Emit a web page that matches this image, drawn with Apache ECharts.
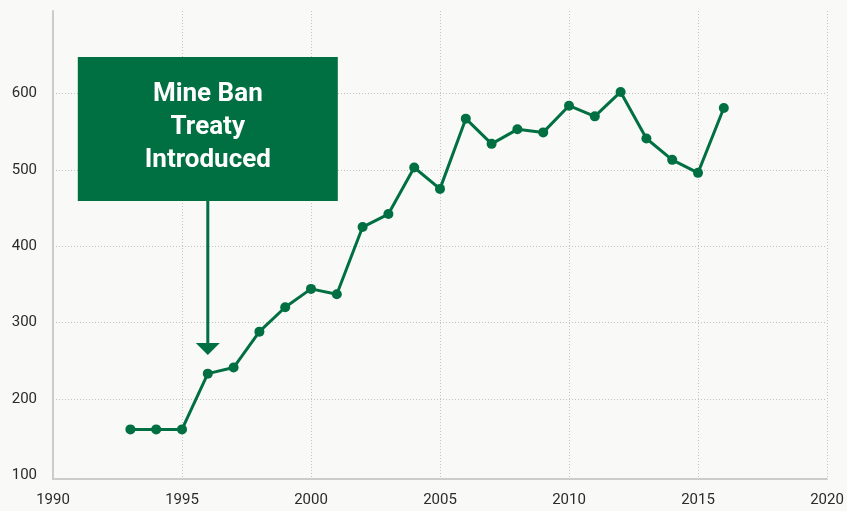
<!DOCTYPE html>
<html>
<head>
<meta charset="utf-8">
<script src="https://cdn.jsdelivr.net/npm/echarts@6/dist/echarts.min.js"></script>
<style>
html,body{margin:0;padding:0;background:#f9f9f7;}
#chart{width:847px;height:511px;}
</style>
</head>
<body>
<div id="chart"></div>
<script>
const years = [1993,1994,1995,1996,1997,1998,1999,2000,2001,2002,2003,2004,2005,2006,2007,2008,2009,2010,2011,2012,2013,2014,2015,2016];
const values = [160,160,160,233,241,288,320,344,337,425,442,503,475,567,534,553,549,584,570,602,541,513,496,581];
const yTickLabels = [100,200,300,400,500,600];
const yGridValues = [200,300,400,500,600];
const annotationYear = 1996;
const annotationText = 'Mine Ban\nTreaty\nIntroduced';

const green = '#006f41';
const chart = echarts.init(document.getElementById('chart'));
chart.setOption({
  backgroundColor: '#f9f9f7',
  animation: false,
  grid: {left: 53, right: 20, top: 11, bottom: 32},
  xAxis: {
    type: 'value', min: 1990, max: 2020, interval: 5,
    axisLine: {show: true, lineStyle: {color: '#cccccc', width: 2}},
    axisTick: {show: false},
    axisLabel: {color: '#2b2b2b', fontFamily: 'Roboto', fontSize: 15, margin: 14, formatter: v => String(v)},
    splitLine: {show: true, lineStyle: {color: '#c4c4c4', type: [1, 2], width: 1}}
  },
  yAxis: {
    type: 'value', min: 95, max: 708,
    axisLine: {show: true, lineStyle: {color: '#cccccc', width: 2}},
    axisTick: {show: false, customValues: yGridValues},
    axisLabel: {color: '#2b2b2b', fontFamily: 'Roboto', fontSize: 15, margin: 16, customValues: yTickLabels, verticalAlign: 'middle', lineHeight: 15, padding: [0, 0, 8, 0]},
    splitLine: {show: true, lineStyle: {color: '#c4c4c4', type: [1, 2], width: 1}}
  },
  series: [{
    type: 'line',
    data: years.map((y, i) => [y, values[i]]),
    symbol: 'circle', symbolSize: 10,
    lineStyle: {color: green, width: 3},
    itemStyle: {color: green},
    z: 3
  }]
});

const ax = chart.convertToPixel({gridIndex: 0}, [annotationYear, 0])[0];
chart.setOption({
  graphic: [
    {type: 'rect', shape: {x: ax - 130, y: 57, width: 260, height: 144}, style: {fill: green}, z: 10},
    {type: 'text', x: ax, y: 127, style: {text: annotationText, fill: '#fff', font: 'bold 26px Roboto', align: 'center', verticalAlign: 'middle', lineHeight: 33}, z: 11},
    {type: 'line', shape: {x1: ax, y1: 200, x2: ax, y2: 345}, style: {stroke: green, lineWidth: 3}, z: 10},
    {type: 'polygon', shape: {points: [[ax - 12, 343], [ax + 12, 343], [ax, 355]]}, style: {fill: green}, z: 10}
  ]
});
</script>
</body>
</html>
